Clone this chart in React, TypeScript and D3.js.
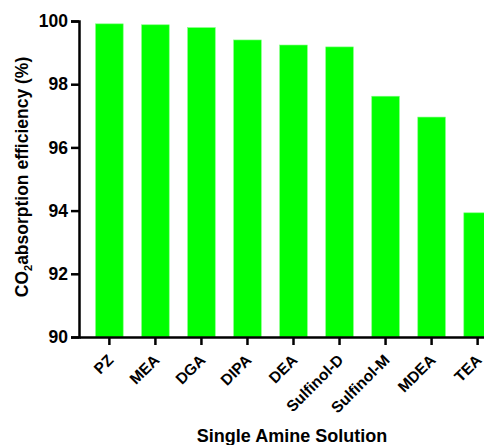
import React, { useEffect, useRef } from "react";
import * as d3 from "d3";

const categories = ["PZ", "MEA", "DGA", "DIPA", "DEA", "Sulfinol-D", "Sulfinol-M", "MDEA", "TEA"];
const efficiency = [99.91, 99.88, 99.79, 99.4, 99.24, 99.18, 97.62, 96.96, 93.93];
const yTicks = [90, 92, 94, 96, 98, 100];

const W = 484;
const H = 445;
const FONT = "'Liberation Sans', Arial, Helvetica, sans-serif";

export default function App() {
  const ref = useRef<SVGSVGElement>(null);

  useEffect(() => {
    const svg = d3.select(ref.current);
    svg.selectAll("*").remove();

    const x0 = 79;
    const yBase = 337;
    const x = d3.scaleBand<string>().domain(categories).range([x0, 508]).paddingInner(0.4).paddingOuter(0.36);
    const y = d3.scaleLinear().domain([90, 100]).range([yBase, 21]);

    svg
      .append("g")
      .selectAll("rect")
      .data(categories)
      .join("rect")
      .attr("x", (d) => x(d)!)
      .attr("width", x.bandwidth())
      .attr("y", (d, i) => y(efficiency[i]))
      .attr("height", (d, i) => yBase - y(efficiency[i]))
      .attr("fill", "#00ff00")
      .attr("stroke", "#7dff7d")
      .attr("stroke-width", 0.6);

    // Y axis
    const gy = svg
      .append("g")
      .attr("transform", `translate(${x0},0)`)
      .call(d3.axisLeft(y).tickValues(yTicks).tickSize(8).tickPadding(3).tickFormat(d3.format("d")));
    gy.select(".domain").attr("stroke", "#000").attr("stroke-width", 2.5);
    gy.selectAll(".tick line").attr("stroke", "#000").attr("stroke-width", 2.5);
    gy.selectAll(".tick text")
      .attr("font-family", FONT)
      .attr("font-weight", "bold")
      .attr("font-size", 17.5)
      .attr("fill", "#000");

    // X axis
    const gx = svg
      .append("g")
      .attr("transform", `translate(0,${yBase})`)
      .call(d3.axisBottom(x).tickSize(8).tickSizeOuter(0));
    gx.select(".domain").attr("stroke", "#000").attr("stroke-width", 2.5);
    gx.selectAll(".tick line").attr("stroke", "#000").attr("stroke-width", 2.5);
    gx.selectAll(".tick text")
      .attr("font-family", FONT)
      .attr("font-weight", "bold")
      .attr("font-size", 15.5)
      .attr("fill", "#000")
      .attr("text-anchor", "end")
      .attr("dy", null)
      .attr("y", null)
      .attr("transform", "translate(5,24) rotate(-45)");

    // Y title
    const yt = svg
      .append("text")
      .attr("transform", `translate(28,177) rotate(-90)`)
      .attr("text-anchor", "middle")
      .attr("font-family", FONT)
      .attr("font-weight", "bold")
      .attr("font-size", 17.5)
      .attr("fill", "#000");
    yt.append("tspan").text("CO");
    yt.append("tspan").attr("font-size", 11).attr("dy", 4).text("2");
    yt.append("tspan").attr("dy", -4).text("absorption efficiency (%)");

    // X title
    svg
      .append("text")
      .attr("x", 292)
      .attr("y", 442)
      .attr("text-anchor", "middle")
      .attr("font-family", FONT)
      .attr("font-weight", "bold")
      .attr("font-size", 18)
      .attr("fill", "#000")
      .text("Single Amine Solution");
  }, []);

  return (
    <svg
      ref={ref}
      width={W}
      height={H}
      style={{ position: "absolute", left: 0, top: 0, background: "#fff", overflow: "hidden" }}
    />
  );
}
